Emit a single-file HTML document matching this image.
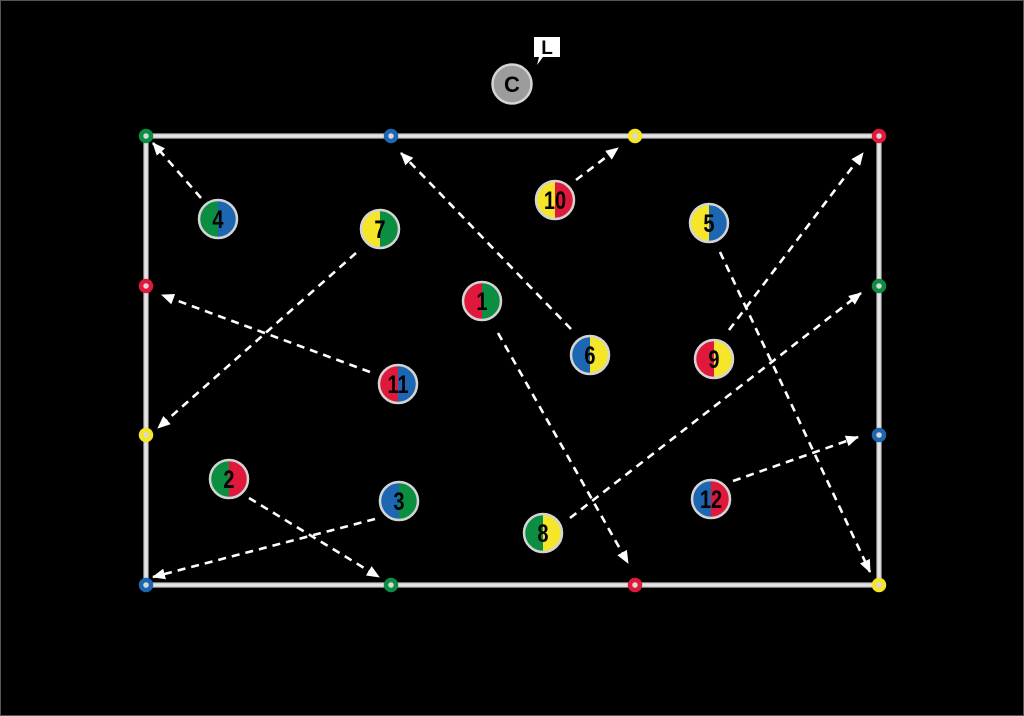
<!DOCTYPE html>
<html><head><meta charset="utf-8"><style>
html,body{margin:0;padding:0;background:#000;}
svg{display:block;}
text{font-family:"Liberation Sans",sans-serif;font-weight:bold;}
</style></head><body>
<svg width="1024" height="716" viewBox="0 0 1024 716" xmlns="http://www.w3.org/2000/svg">
<defs>
<marker id="ah" markerUnits="userSpaceOnUse" markerWidth="13" markerHeight="11" refX="12" refY="5.5" orient="auto">
<path d="M0,0 L13,5.5 L0,11 z" fill="#fff"/>
</marker>
<clipPath id="cl"><rect x="-30" y="-30" width="30" height="60"/></clipPath>
<clipPath id="cr"><rect x="0" y="-30" width="30" height="60"/></clipPath>
</defs>
<rect x="0.5" y="0.5" width="1023" height="715" fill="#000" stroke="#555" stroke-width="1"/>
<!-- field -->
<rect x="146" y="136" width="733" height="449" fill="none" stroke="#9a9a9a" stroke-width="5.5"/>
<rect x="146" y="136" width="733" height="449" fill="none" stroke="#e4e4e4" stroke-width="3.5"/>

<!-- arrows -->
<g stroke="#fff" stroke-width="2.6" stroke-dasharray="8,6" fill="none" marker-end="url(#ah)">
<line x1="201" y1="198" x2="153" y2="143"/>
<line x1="356" y1="253" x2="158" y2="428"/>
<line x1="571" y1="329" x2="401" y2="153"/>
<line x1="576" y1="180" x2="618" y2="148"/>
<line x1="370" y1="372" x2="162" y2="295"/>
<line x1="498" y1="333" x2="628" y2="563"/>
<line x1="720" y1="252" x2="870" y2="572"/>
<line x1="729" y1="330" x2="863" y2="153"/>
<line x1="570" y1="518" x2="861" y2="293"/>
<line x1="733" y1="481" x2="858" y2="437"/>
<line x1="249" y1="498" x2="379" y2="577"/>
<line x1="375" y1="519" x2="153" y2="577"/>
</g>

<!-- cones -->
<g stroke-width="4.5" fill="#d8d8d8">
<circle cx="146" cy="136" r="5" stroke="#0b8d42"/>
<circle cx="391" cy="136" r="5" stroke="#1d66b1"/>
<circle cx="635" cy="136" r="5" stroke="#f5e629"/>
<circle cx="879" cy="136" r="5" stroke="#e0193c"/>
<circle cx="146" cy="286" r="5" stroke="#e0193c"/>
<circle cx="146" cy="435" r="5" stroke="#f5e629"/>
<circle cx="146" cy="585" r="5" stroke="#1d66b1"/>
<circle cx="391" cy="585" r="5" stroke="#0b8d42"/>
<circle cx="635" cy="585" r="5" stroke="#e0193c"/>
<circle cx="879" cy="585" r="5" stroke="#f5e629"/>
<circle cx="879" cy="286" r="5" stroke="#0b8d42"/>
<circle cx="879" cy="435" r="5" stroke="#1d66b1"/>
</g>

<!-- coach -->
<circle cx="512" cy="84" r="19.5" fill="#9c9c9c" stroke="#d4d4d4" stroke-width="2.5"/>
<text x="512" y="92" font-size="22" text-anchor="middle" fill="#000">C</text>
<path d="M534,37 H560 V57 H543 L537,65 L539,57 H534 Z" fill="#fff"/>
<text x="547" y="54" font-size="19" text-anchor="middle" fill="#000">L</text>

<!-- players -->
<g id="players">
<g transform="translate(218,219)">
<circle r="19" fill="#0b8d42" clip-path="url(#cl)"/><circle r="19" fill="#1d66b1" clip-path="url(#cr)"/>
<circle r="19" fill="none" stroke="#d4d4d4" stroke-width="2.5"/>
<text transform="scale(0.8,1)" y="9" font-size="25" text-anchor="middle" fill="#000">4</text></g>
<g transform="translate(380,229)">
<circle r="19" fill="#f5e629" clip-path="url(#cl)"/><circle r="19" fill="#0b8d42" clip-path="url(#cr)"/>
<circle r="19" fill="none" stroke="#d4d4d4" stroke-width="2.5"/>
<text transform="scale(0.8,1)" y="9" font-size="25" text-anchor="middle" fill="#000">7</text></g>
<g transform="translate(555,200)">
<circle r="19" fill="#f5e629" clip-path="url(#cl)"/><circle r="19" fill="#e0193c" clip-path="url(#cr)"/>
<circle r="19" fill="none" stroke="#d4d4d4" stroke-width="2.5"/>
<text transform="scale(0.8,1)" y="9" font-size="25" text-anchor="middle" fill="#000">10</text></g>
<g transform="translate(709,223)">
<circle r="19" fill="#f5e629" clip-path="url(#cl)"/><circle r="19" fill="#1d66b1" clip-path="url(#cr)"/>
<circle r="19" fill="none" stroke="#d4d4d4" stroke-width="2.5"/>
<text transform="scale(0.8,1)" y="9" font-size="25" text-anchor="middle" fill="#000">5</text></g>
<g transform="translate(482,301)">
<circle r="19" fill="#e0193c" clip-path="url(#cl)"/><circle r="19" fill="#0b8d42" clip-path="url(#cr)"/>
<circle r="19" fill="none" stroke="#d4d4d4" stroke-width="2.5"/>
<text transform="scale(0.8,1)" y="9" font-size="25" text-anchor="middle" fill="#000">1</text></g>
<g transform="translate(590,355)">
<circle r="19" fill="#1d66b1" clip-path="url(#cl)"/><circle r="19" fill="#f5e629" clip-path="url(#cr)"/>
<circle r="19" fill="none" stroke="#d4d4d4" stroke-width="2.5"/>
<text transform="scale(0.8,1)" y="9" font-size="25" text-anchor="middle" fill="#000">6</text></g>
<g transform="translate(714,359)">
<circle r="19" fill="#e0193c" clip-path="url(#cl)"/><circle r="19" fill="#f5e629" clip-path="url(#cr)"/>
<circle r="19" fill="none" stroke="#d4d4d4" stroke-width="2.5"/>
<text transform="scale(0.8,1)" y="9" font-size="25" text-anchor="middle" fill="#000">9</text></g>
<g transform="translate(398,384)">
<circle r="19" fill="#e0193c" clip-path="url(#cl)"/><circle r="19" fill="#1d66b1" clip-path="url(#cr)"/>
<circle r="19" fill="none" stroke="#d4d4d4" stroke-width="2.5"/>
<text transform="scale(0.8,1)" y="9" font-size="25" text-anchor="middle" fill="#000">11</text></g>
<g transform="translate(229,479)">
<circle r="19" fill="#0b8d42" clip-path="url(#cl)"/><circle r="19" fill="#e0193c" clip-path="url(#cr)"/>
<circle r="19" fill="none" stroke="#d4d4d4" stroke-width="2.5"/>
<text transform="scale(0.8,1)" y="9" font-size="25" text-anchor="middle" fill="#000">2</text></g>
<g transform="translate(399,501)">
<circle r="19" fill="#1d66b1" clip-path="url(#cl)"/><circle r="19" fill="#0b8d42" clip-path="url(#cr)"/>
<circle r="19" fill="none" stroke="#d4d4d4" stroke-width="2.5"/>
<text transform="scale(0.8,1)" y="9" font-size="25" text-anchor="middle" fill="#000">3</text></g>
<g transform="translate(543,533)">
<circle r="19" fill="#0b8d42" clip-path="url(#cl)"/><circle r="19" fill="#f5e629" clip-path="url(#cr)"/>
<circle r="19" fill="none" stroke="#d4d4d4" stroke-width="2.5"/>
<text transform="scale(0.8,1)" y="9" font-size="25" text-anchor="middle" fill="#000">8</text></g>
<g transform="translate(711,499)">
<circle r="19" fill="#1d66b1" clip-path="url(#cl)"/><circle r="19" fill="#e0193c" clip-path="url(#cr)"/>
<circle r="19" fill="none" stroke="#d4d4d4" stroke-width="2.5"/>
<text transform="scale(0.8,1)" y="9" font-size="25" text-anchor="middle" fill="#000">12</text></g>
</g>
</svg>
</body></html>
